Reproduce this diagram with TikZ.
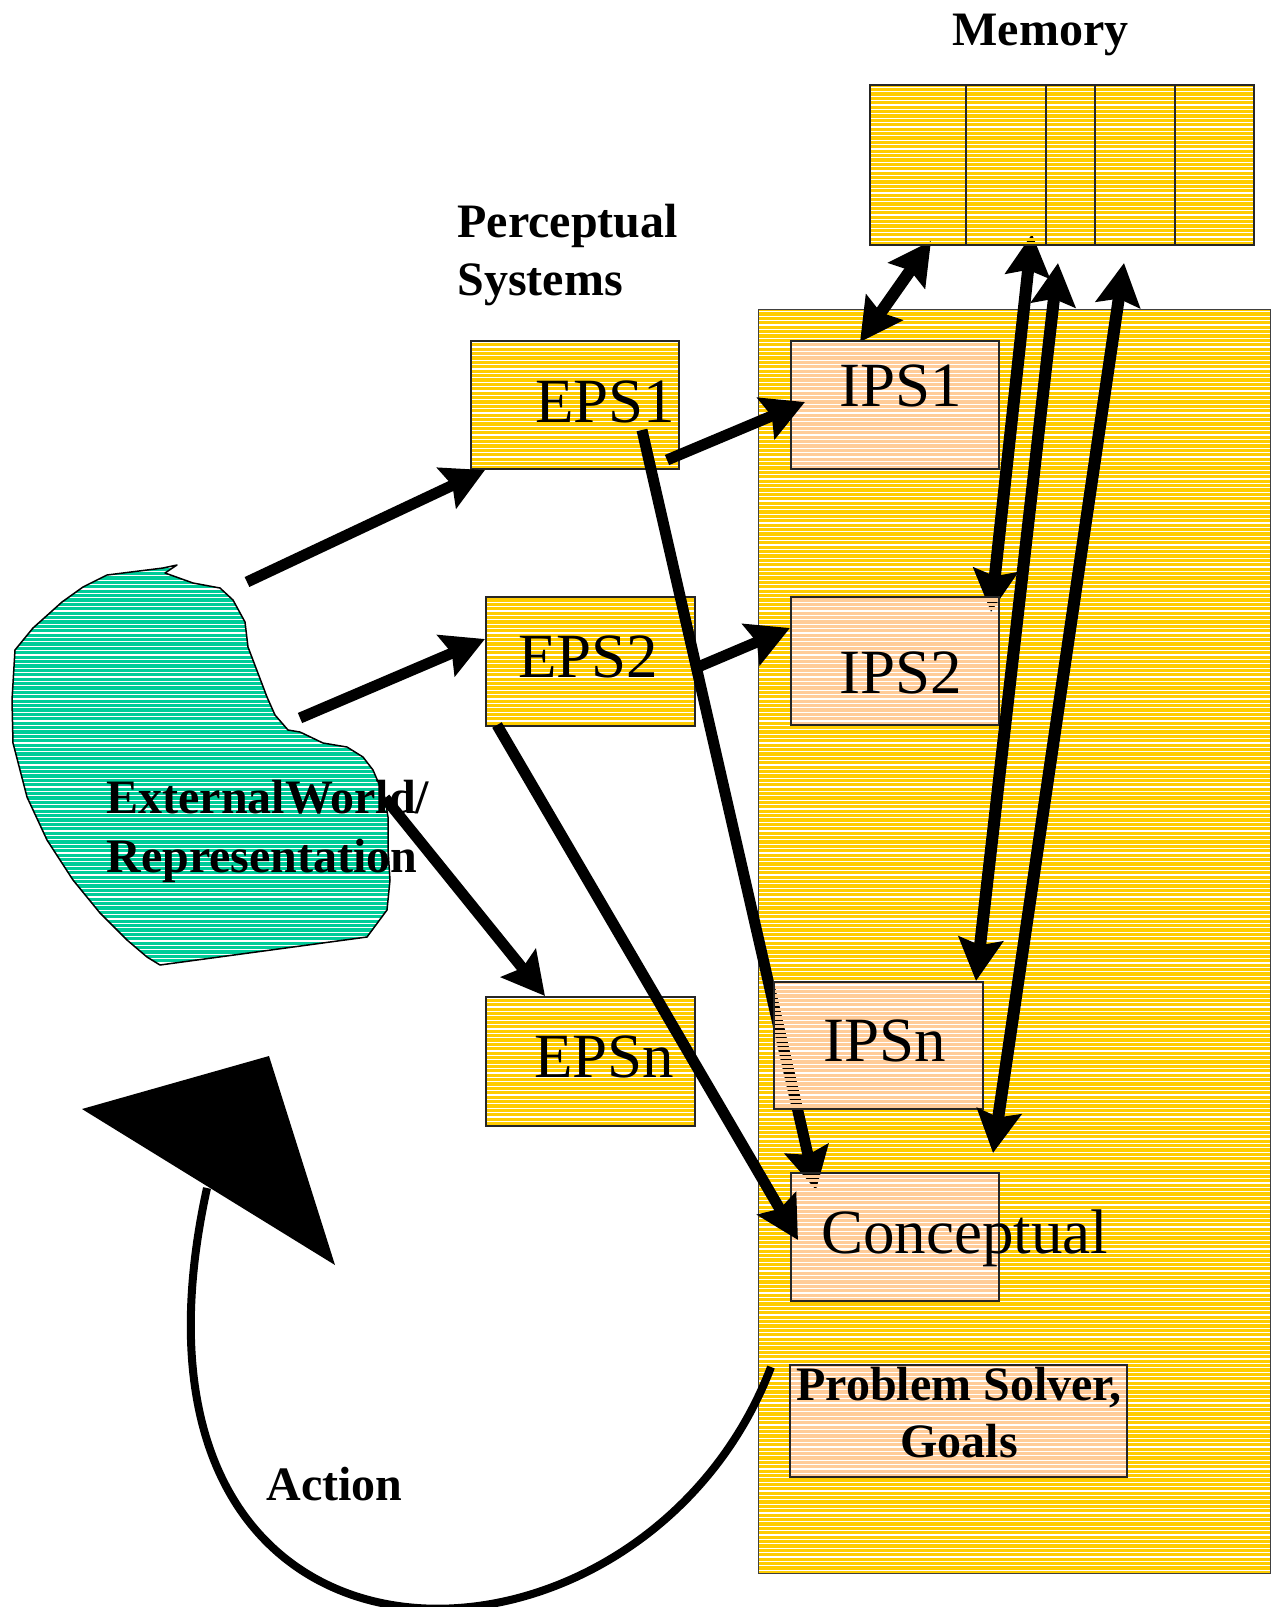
\documentclass[tikz,border=0pt]{standalone}
\usepackage{fontspec}
\setmainfont{Liberation Serif}
\usetikzlibrary{arrows.meta,fit}
\definecolor{ylw}{HTML}{FFCC00}
\definecolor{peach}{HTML}{FFCC99}
\definecolor{sea}{HTML}{00CC99}
% horizontal stripes with see-through gaps, on one grid for the whole page
\newcommand\stripes[5]{%
  \pgfmathtruncatemacro\ka{#3/4.4-1}%
  \pgfmathtruncatemacro\kb{#5/4.4+1}%
  \foreach \k in {\ka,...,\kb}
    \fill[#1] (#2,\k*4.4) rectangle (#4,\k*4.4+3.1);}
% a striped rectangle drawn as a named node
\newcommand\stripedbox[7]{%
  \begin{scope}
    \clip (#4,#5) rectangle (#6,#7);
    \stripes{#2}{#4}{#5}{#6}{#7}
  \end{scope}
  \node[#1, fit={(#4,#5) (#6,#7)}] (#3) {};}
\begin{document}
\begin{tikzpicture}[x=0.5pt,y=-0.5pt,
  panel/.style={draw=black!75, line width=0.5pt, inner sep=0pt},
  boxline/.style={draw=black!85, line width=0.75pt, inner sep=0pt},
  big/.style={font=\fontsize{31.5}{36}\selectfont, inner sep=0pt, anchor=base west},
  head/.style={font=\fontsize{24}{29}\selectfont\bfseries, inner sep=0pt, anchor=base west},
  flow/.style={line width=5.5pt, -{Stealth[length=21pt,width=22pt,inset=3pt]}},
  link/.style={line width=6pt, {Stealth[length=21pt,width=22pt,inset=3pt]}-{Stealth[length=21pt,width=22pt,inset=3pt]}},
]
\useasboundingbox (0,0) rectangle (1278,1607);

% internal processing panel
\stripedbox{panel}{ylw}{panel}{758}{309}{1270}{1573}

% external perceptual systems
\stripedbox{boxline}{ylw}{eps1}{471}{341}{679}{469}
\stripedbox{boxline}{ylw}{eps2}{486}{597}{695}{726}
\stripedbox{boxline}{ylw}{epsn}{486}{997}{695}{1126}

% the external world
\def\worldpath{(15,650) -- (33,628) -- (62,602) -- (83,587) -- (107,575) -- (163,568)
  -- (177,565) -- (165,573) -- (193,583) -- (220,588) -- (233,600)
  -- (245,622) -- (248,647) -- (267,697) -- (275,715) -- (288,730)
  -- (300,732) -- (323,743) -- (347,747) -- (363,757) -- (373,770)
  -- (385,798) -- (388,817) -- (388,850) -- (390,880) -- (387,910)
  -- (367,937) -- (160,965) -- (147,957) -- (127,940) -- (100,913)
  -- (73,880) -- (47,840) -- (27,797) -- (13,743) -- (12,700) -- cycle}
\begin{scope}
  \clip \worldpath;
  \stripes{sea}{0}{560}{400}{970}
\end{scope}
\draw[black, line width=0.75pt, line join=round] \worldpath;
\node[head] (world1) at (106,813) {ExternalWorld/};
\node[head] (world2) at (106,872) {Representation};

% end points of the connectors
\coordinate (w-a) at (247,582);
\coordinate (w-b) at (300,718);
\coordinate (w-c) at (385,798);
\coordinate (eps1-in) at (485,470);
\coordinate (eps2-in) at (485,639);
\coordinate (epsn-in) at (545,996);
\coordinate (eps1-out) at (667,460);
\coordinate (eps1-down) at (642,430);
\coordinate (eps2-out) at (698,667);
\coordinate (eps2-down) at (497,725);
\coordinate (ips1-in) at (805,402);
\coordinate (ips2-in) at (790,628);
\coordinate (con-a) at (816,1190);
\coordinate (con-b) at (798,1240);
\coordinate (mem-1) at (931,241);
\coordinate (mem-2) at (1032,234);
\coordinate (mem-3) at (1058,263);
\coordinate (mem-4) at (1124,263);
\coordinate (ips1-up) at (860,342);
\coordinate (ips2-up) at (991,612);
\coordinate (ipsn-up) at (976,981);
\coordinate (con-up) at (993,1153);
\coordinate (act-start) at (771,1367);
\coordinate (act-end) at (207,1188);

% connectors passing beneath the internal boxes
\draw[flow] (eps1-down) -- (con-a);
\draw[link] (mem-1) -- (ips1-up);
\draw[link] (mem-2) -- (ips2-up);

% memory
\stripedbox{boxline}{ylw}{mem}{870}{85}{1254}{245}
\foreach \x in {966,1046,1095,1175}
  \draw[draw=black!85, line width=0.75pt] (\x,85) -- (\x,245);

% internal perceptual systems and processes
\stripedbox{boxline}{peach}{ips1}{791}{341}{999}{469}
\stripedbox{boxline}{peach}{ips2}{791}{597}{999}{725}
\stripedbox{boxline}{peach}{ipsn}{774}{982}{983}{1109}
\stripedbox{boxline}{peach}{concept}{791}{1173}{999}{1301}
\stripedbox{boxline}{peach}{ps}{790}{1365}{1127}{1477}

% connectors on top
\draw[flow] (w-a) -- (eps1-in);
\draw[flow] (w-b) -- (eps2-in);
\draw[flow] (w-c) -- (epsn-in);
\draw[flow] (eps1-out) -- (ips1-in);
\draw[flow] (eps2-out) -- (ips2-in);
\draw[flow] (eps2-down) -- (con-b);
\draw[link] (mem-3) -- (ipsn-up);
\draw[link] (mem-4) -- (con-up);

% action loop back to the world
\draw[line width=4pt] (act-start) .. controls (640,1710) and (90,1720) .. (act-end);
\fill (82,1109) -- (269,1056) -- (335,1265) -- cycle;

% labels
\node[big] (t-eps1) at (535,422) {EPS1};
\node[big] (t-eps2) at (518,677) {EPS2};
\node[big] (t-epsn) at (534,1077) {EPSn};
\node[big] (t-ips1) at (839,406) {IPS1};
\node[big] (t-ips2) at (839,693) {IPS2};
\node[big] (t-ipsn) at (823,1061) {IPSn};
\node[big] (t-con) at (821,1253) {Conceptual};
\node[head] (t-mem) at (952,45) {Memory};
\node[head] (t-per1) at (457,237) {Perceptual};
\node[head] (t-per2) at (457,295) {Systems};
\node[head] (t-act) at (266,1500) {Action};
\node[head, anchor=base] (t-ps1) at (959,1400) {Problem Solver,};
\node[head, anchor=base] (t-ps2) at (959,1457) {Goals};
\end{tikzpicture}
\end{document}
